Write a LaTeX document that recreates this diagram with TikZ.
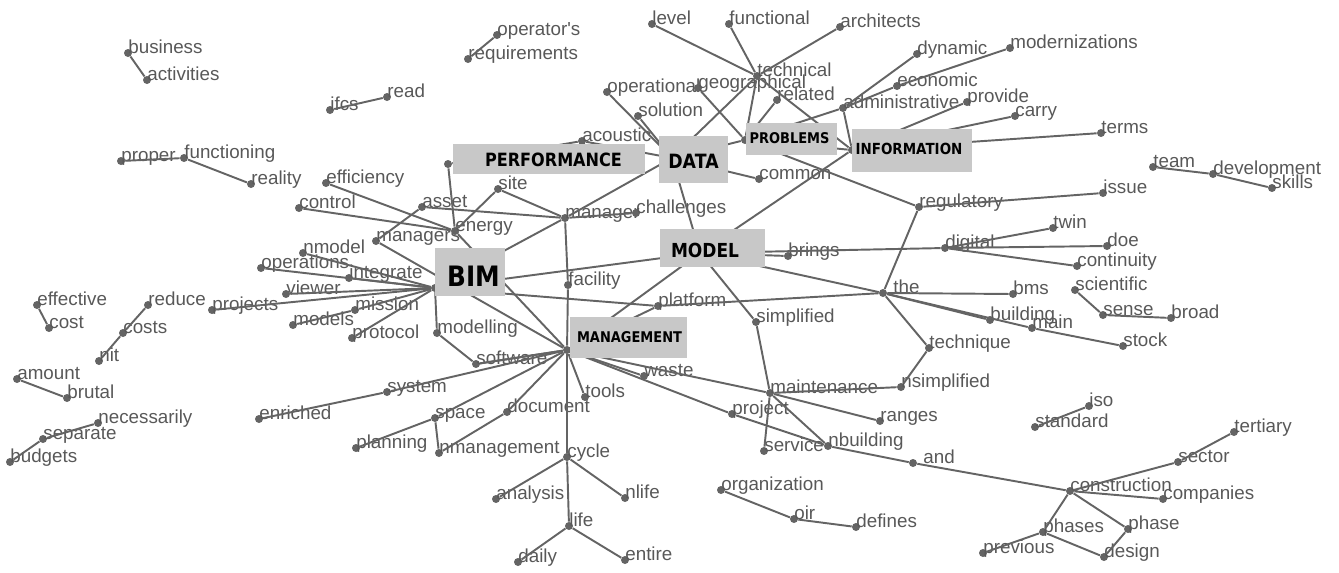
\documentclass[tikz,border=0pt]{standalone}
\usepackage{fontspec}
\setmainfont{Liberation Sans}
\newfontfamily\boxfont[FakeStretch=0.88]{DejaVu Sans}
\definecolor{wordgray}{RGB}{88,88,88}
\definecolor{edgegray}{RGB}{100,100,100}
\definecolor{boxgray}{RGB}{200,200,200}
\tikzset{
  dot/.style={circle, fill=edgegray, inner sep=0pt, minimum size=0.16cm},
  word/.style={anchor=base west, inner sep=0pt, text=wordgray,
    font=\fontsize{10.7}{12}\selectfont},
  link/.style={draw=edgegray, line width=1.1pt},
  keybox/.style={fill=boxgray, inner sep=0pt},
  keytext/.style={inner sep=0pt, text=black},
}
% a term: dot plus its word
\newcommand{\term}[5][]{%
  \node[dot] (#2) at (#3,#4) {};
  \node[word,#1] (#2-l) at (#2.center) {#5};
}

\begin{document}
\begin{tikzpicture}[x=0.02cm, y=-0.02cm]
  \useasboundingbox (0,0) rectangle (1339,572);
  % hubs of the key words
  \node[dot] (bim) at (435,288) {};
  \node[dot] (perf) at (448,164) {};
  \node[dot] (data) at (672,158) {};
  \node[dot] (model) at (700,253) {};
  \node[dot] (problems) at (745,140) {};
  \node[dot] (info) at (852,150) {};
  \node[dot] (mgmt) at (567,350) {};
  % small groups
  \term{business}{128}{53}{business}
  \term{activities}{147}{80}{activities}
  \term{ifcs}{330}{110}{ifcs}
  \term{read}{387}{97}{read}
  \term{operators}{497}{35}{operator\textquotesingle s}
  \term{requirements}{468}{59}{requirements}
  \term{proper}{121}{161}{proper}
  \term{functioning}{184}{158}{functioning}
  \term{reality}{251}{184}{reality}
  \term{effective}{37}{305}{effective}
  \term{cost}{49}{328}{cost}
  \term{reduce}{148}{305}{reduce}
  \term{costs}{123}{333}{costs}
  \term{nit}{99}{361}{nit}
  \term{amount}{17}{379}{amount}
  \term{brutal}{67}{398}{brutal}
  \term{necessarily}{98}{423}{necessarily}
  \term{separate}{43}{439}{separate}
  \term{budgets}{10}{462}{budgets}
  \term{iso}{1089}{406}{iso}
  \term{standard}{1035}{427}{standard}
  \term{scientific}{1075}{290}{scientific}
  \term{sense}{1103}{315}{sense}
  \term{broad}{1171}{318}{broad}
  \term{team}{1153}{167}{team}
  \term{development}{1213}{174}{development}
  \term{skills}{1272}{188}{skills}
  \term{organization}{721}{490}{organization}
  \term{oir}{794}{519}{oir}
  \term{defines}{856}{527}{defines}
  % around BIM
  \term{efficiency}{326}{183}{efficiency}
  \term{control}{299}{208}{control}
  \term{asset}{422}{207}{asset}
  \term{managers}{376}{241}{managers}
  \term{nmodel}{303}{253}{nmodel}
  \term{operations}{261}{268}{operations}
  \term{integrate}{349}{278}{integrate}
  \term{viewer}{286}{294}{viewer}
  \term{projects}{212}{310}{projects}
  \term{mission}{355}{310}{mission}
  \term{models}{293}{325}{models}
  \term{protocol}{352}{338}{protocol}
  \term{modelling}{437}{333}{modelling}
  \term{software}{476}{364}{software}
  \term{energy}{455}{231}{energy}
  \term{site}{498}{189}{site}
  \term{manager}{565}{218}{manager}
  \term{challenges}{636}{213}{challenges}
  \term{facility}{568}{285}{facility}
  % around DATA, PROBLEMS, INFORMATION
  \term{operational}{607}{92}{operational}
  \term{solution}{638}{116}{solution}
  \term{acoustic}{582}{141}{acoustic}
  \term{geographical}{698}{88}{geographical}
  \term{technical}{757}{76}{technical}
  \term{level}{652}{24}{level}
  \term{functional}{729}{24}{functional}
  \term{architects}{840}{27}{architects}
  \term{related}{777}{100}{related}
  \term{common}{759}{179}{common}
  \term{administrative}{843}{108}{administrative}
  \term{dynamic}{917}{54}{dynamic}
  \term{economic}{897}{86}{economic}
  \term{modernizations}{1010}{48}{modernizations}
  \term{provide}{967}{102}{provide}
  \term{carry}{1015}{116}{carry}
  \term{terms}{1101}{133}{terms}
  \term{regulatory}{919}{207}{regulatory}
  \term{issue}{1103}{193}{issue}
  % around MODEL
  \term{brings}{788}{256}{brings}
  \term{digital}{945}{248}{digital}
  \term{twin}{1053}{228}{twin}
  \term{doe}{1107}{246}{doe}
  \term{continuity}{1077}{266}{continuity}
  \term[xshift=0.2cm]{the}{883}{293}{the}
  \term{bms}{1013}{294}{bms}
  \term{building}{990}{320}{building}
  \term{main}{1032}{328}{main}
  \term{stock}{1123}{346}{stock}
  \term{technique}{929}{348}{technique}
  \term{nsimplified}{901}{387}{nsimplified}
  \term{platform}{658}{306}{platform}
  \term{simplified}{756}{322}{simplified}
  % around MANAGEMENT
  \term{waste}{644}{376}{waste}
  \term{project}{732}{414}{project}
  \term{maintenance}{770}{393}{maintenance}
  \term{ranges}{880}{421}{ranges}
  \term{service}{764}{451}{service}
  \term{nbuilding}{828}{446}{nbuilding}
  \term[xshift=0.2cm]{and}{913}{463}{and}
  \term{construction}{1070}{491}{construction}
  \term{companies}{1163}{499}{companies}
  \term{sector}{1178}{462}{sector}
  \term{tertiary}{1234}{432}{tertiary}
  \term{phases}{1043}{532}{phases}
  \term{phase}{1128}{529}{phase}
  \term{previous}{983}{553}{previous}
  \term{design}{1104}{557}{design}
  \term{tools}{585}{397}{tools}
  \term{document}{507}{412}{document}
  \term{space}{435}{418}{space}
  \term{system}{387}{392}{system}
  \term{enriched}{259}{419}{enriched}
  \term{planning}{356}{448}{planning}
  \term{nmanagement}{439}{453}{nmanagement}
  \term{cycle}{567}{457}{cycle}
  \term{analysis}{496}{499}{analysis}
  \term{nlife}{625}{498}{nlife}
  \term{life}{569}{526}{life}
  \term{daily}{518}{562}{daily}
  \term{entire}{625}{560}{entire}

  % connectors
  \foreach \a/\b in {business/activities, ifcs/read, operators/requirements,
      proper/functioning, functioning/reality, effective/cost, reduce/costs,
      costs/nit, amount/brutal, necessarily/separate, separate/budgets,
      iso/standard, scientific/sense, sense/broad, team/development,
      development/skills, organization/oir, oir/defines}
    \draw[link] (\a) -- (\b);
  \foreach \a/\b in {efficiency/energy, control/energy, asset/manager,
      managers/asset, managers/mgmt, energy/perf, energy/mgmt, energy/site,
      site/manager, nmodel/bim, operations/bim, integrate/bim, viewer/bim,
      projects/bim, mission/bim, models/mission, protocol/bim, modelling/bim,
      modelling/software, software/mgmt, bim/manager, bim/model, bim/platform,
      manager/challenges, manager/data, manager/facility, facility/mgmt,
      perf/acoustic, acoustic/data}
    \draw[link] (\a) -- (\b);
  \foreach \a/\b in {operational/data, solution/data, geographical/problems,
      technical/level, technical/functional, technical/architects,
      technical/data, technical/problems, technical/info, related/problems,
      data/common, data/model, data/problems, problems/info,
      problems/administrative, administrative/info, administrative/dynamic,
      administrative/economic, economic/modernizations, info/provide,
      info/carry, info/terms, problems/regulatory, regulatory/issue,
      regulatory/the, model/info}
    \draw[link] (\a) -- (\b);
  \foreach \a/\b in {model/brings, model/digital, digital/twin, digital/doe,
      digital/continuity, model/the, the/bms, the/building, the/main,
      main/stock, the/technique, technique/nsimplified,
      nsimplified/maintenance, platform/the, platform/mgmt, model/mgmt,
      model/simplified, simplified/maintenance}
    \draw[link] (\a) -- (\b);
  \foreach \a/\b in {mgmt/waste, mgmt/project, mgmt/maintenance,
      project/nbuilding, nbuilding/and, and/construction,
      maintenance/service, maintenance/nbuilding, maintenance/ranges,
      construction/sector, sector/tertiary, construction/companies,
      construction/phases, construction/phase, phases/previous,
      phases/design, phase/design, mgmt/tools, mgmt/document,
      document/nmanagement, mgmt/space, space/planning, space/nmanagement,
      mgmt/system, system/enriched, mgmt/software, mgmt/cycle,
      cycle/analysis, cycle/nlife, cycle/life, life/daily, life/entire}
    \draw[link] (\a) -- (\b);

  % key word boxes on top
  \node[keybox, minimum width=1.4cm, minimum height=0.96cm] (bim-box) at (470,272) {};
  \node[keytext, font=\boxfont\bfseries\fontsize{16}{18}\selectfont] (bim-l) at (473.5,276) {BIM};
  \node[keybox, minimum width=3.84cm, minimum height=0.6cm] (perf-box) at (549,159) {};
  \node[keytext, font=\boxfont\bfseries\fontsize{10.4}{12}\selectfont] (perf-l) at (553.5,160) {PERFORMANCE};
  \node[keybox, minimum width=1.38cm, minimum height=0.94cm] (data-box) at (693.5,159.5) {};
  \node[keytext, font=\boxfont\bfseries\fontsize{11.2}{13}\selectfont] (data-l) at (693.5,161.5) {DATA};
  \node[keybox, minimum width=2.1cm, minimum height=0.76cm] (model-box) at (712.5,248) {};
  \node[keytext, font=\boxfont\bfseries\fontsize{11}{13}\selectfont] (model-l) at (705,250.5) {MODEL};
  \node[keybox, minimum width=1.82cm, minimum height=0.64cm] (problems-box) at (791.5,139) {};
  \node[keytext, font=\boxfont\bfseries\fontsize{8.4}{10}\selectfont] (problems-l) at (789.5,138) {PROBLEMS};
  \node[keybox, minimum width=2.4cm, minimum height=0.86cm] (info-box) at (912,150.5) {};
  \node[keytext, font=\boxfont\bfseries\fontsize{8.7}{10}\selectfont] (info-l) at (909,149) {INFORMATION};
  \node[keybox, minimum width=2.34cm, minimum height=0.82cm] (mgmt-box) at (628.5,337.5) {};
  \node[keytext, font=\boxfont\bfseries\fontsize{8.4}{10}\selectfont] (mgmt-l) at (629.5,337.5) {MANAGEMENT};
\end{tikzpicture}
\end{document}
